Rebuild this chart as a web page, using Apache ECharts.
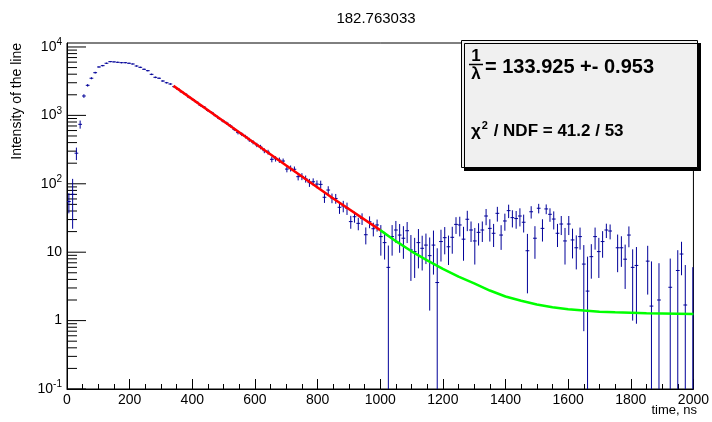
<!DOCTYPE html>
<html><head><meta charset="utf-8">
<script src="https://cdn.jsdelivr.net/npm/echarts@6/dist/echarts.min.js"></script>
<style>html,body{margin:0;padding:0;background:#fff;}#c{width:712px;height:422px;}</style>
</head><body><div id="c"></div>
<script>
// ---- data ----
const binCenters = [6,18,30,42,54,66,78,90,102,114,126,138,150,162,174,186,198,210,222,234,246,258,270,282,294,306,318,330,342,354,366,378,390,402,414,426,438,450,462,474,486,498,510,522,534,546,558,570,582,594,606,618,630,642,654,666,678,690,702,714,726,738,750,762,774,786,798,810,822,834,846,858,870,882,894,906,918,930,942,954,966,978,990,1002,1014,1026,1038,1050,1062,1074,1086,1098,1110,1122,1134,1146,1158,1170,1182,1194,1206,1218,1230,1242,1254,1266,1278,1290,1302,1314,1326,1338,1350,1362,1374,1386,1398,1410,1422,1434,1446,1458,1470,1482,1494,1506,1518,1530,1542,1554,1566,1578,1590,1602,1614,1626,1638,1650,1662,1674,1686,1698,1710,1722,1734,1746,1758,1770,1782,1794,1806,1818,1830,1842,1854,1866,1878,1890,1902,1914,1926,1938,1950,1962,1974,1986,1998];
const intensity = [55,70,280,740,1920,2750,3490,4210,5100,5330,
5780,6100,6050,5970,5890,5890,5780,5640,5270,5040,
4720,4500,3980,3600,3490,3180,3000,2875,2630,2430,
2200,2050,1840,1700,1560,1400,1320,1180,1100,990,
900,830,770,700,625,560,530,490,440,405,
370,345,305,290,228,232,222,215,164,168,
163,127,128,118,104,107,99,98,63.5,81,
62,61,45.3,47.3,44,28,33,26.4,31,18,
27.9,22,25,16.9,13.8,6.0,16.9,21.1,17.8,16.0,
20.6,10.8,10.2,13.8,11.4,12.7,8.9,12.7,3.6,14.3,
16.3,12.0,16.5,25.5,25.0,15.5,30.3,21.1,14.6,19.5,
21.1,33.8,22.3,18.9,37.0,17.8,28.6,40.5,32.0,31.0,
33.8,27.4,10.5,39.0,16.0,43.9,22.3,42.9,35.8,30.5,
18.9,25.8,14.6,25.8,15.1,11.6,16.9,6.7,2.7,8.6,
16.9,10.2,14.3,21.1,20.4,null,11.6,11.6,7.9,17.8,
6.0,6.4,null,null,7.4,1.63,null,2.0,null,null,
3.07,null,5.4,9.4,1.69,null,1.24];
const intensityErr = [18,48,58,100,120,120,120,130,130,130,
130,130,130,130,130,130,130,120,120,120,
110,110,100,100,90,90,80,80,80,75,
70,70,65,60,55,55,50,50,45,45,
40,40,38,36,35,33,32,30,30,28,
27,26,25,24,22,21,20,19,17,17,
16,15,15,14,14,13,13,13,11,11,
10,10,9,9,9,6,6,5.5,6,5,
5.5,5,5,8,6,6.5,8,7.5,8,8,
7,7,6,8,6,6,7.5,8,7.8,7,
7,5.5,7,7,8,8,10,7,8,7,
7,9,8,7,9,7,8,9,9,9,
10,8,8,8,8,7,8,7,8,9,
7,8,8,8,7,6,6,6,5.9,4.5,
6,6,6,5,5,null,6.5,5.5,5,6,
5,5.5,null,null,5,5.7,null,4.9,null,null,
5,null,5.3,4.8,4.8,null,4.8];
const binHalfWidth = 6;
const fitRedTime = [340,500,700,850,1000];
const fitRedValue = [2700,820,185,61,21];
const fitGreenTime = [1000,1050,1100,1150,1200,1250,1300,1350,1400,1450,1500,1550,1600,1650,1700,1750,1800,1850,1900,1950,2000];
const fitGreenValue = [21,14.5,10.3,7.6,5.7,4.4,3.5,2.75,2.25,1.95,1.72,1.57,1.47,1.40,1.35,1.32,1.30,1.28,1.27,1.26,1.25];
const yMajorTicks = [0.1,1,10,100,1000,10000];
const yMinorTicks = [0.2,0.3,0.4,0.5,0.6,0.7,0.8,0.9,2,3,4,5,6,7,8,9,20,30,40,50,60,70,80,90,200,300,400,500,600,700,800,900,2000,3000,4000,5000,6000,7000,8000,9000];
const yMin = 0.1, yMax = 11430;
const titleText = '182.763033';
const yTitle = 'Intensity of the line';
const xTitle = 'time, ns';

const FONT = 'Liberation Sans, Arial, Helvetica, sans-serif';
const chart = echarts.init(document.getElementById('c'), null, {renderer:'canvas'});

const points = [];
binCenters.forEach((t,i)=>{ if(intensity[i]!=null && intensity[i]>0) points.push([t,intensity[i],intensityErr[i]]); });

function renderPoint(params, api){
  const t = api.value(0), v = api.value(1), e = api.value(2);
  const lo = Math.max(v - e, yMin);
  const hi = Math.min(v + e, yMax);
  const c = api.coord([t, v]);
  const top = api.coord([t, hi]);
  const bot = api.coord([t, lo]);
  const l = api.coord([t - binHalfWidth, v]);
  const r = api.coord([t + binHalfWidth, v]);
  const style = {stroke:'#000099', lineWidth:1};
  return {type:'group', children:[
    {type:'line', shape:{x1:c[0],y1:top[1],x2:c[0],y2:bot[1]}, style:style},
    {type:'line', shape:{x1:l[0],y1:c[1],x2:r[0],y2:c[1]}, style:style}
  ]};
}
function tickRenderer(len){
  return function(params, api){
    const p = api.coord([0, api.value(1)]);
    return {type:'line', shape:{x1:p[0],y1:p[1],x2:p[0]+len,y2:p[1]}, style:{stroke:'#000',lineWidth:1}};
  };
}
function yLabel(v){
  const lg = Math.log10(v);
  const n = Math.round(lg);
  if (Math.abs(lg - n) > 1e-6) return '';
  if (n === 0) return '{b|1}';
  if (n === 1) return '{b|10}';
  return '{b|10}{s|' + n + '}';
}

chart.setOption({
  animation:false,
  backgroundColor:'#fff',
  grid:{left:67, right:15, top:43, bottom:33, show:true, borderColor:'#000', borderWidth:1, backgroundColor:'transparent'},
  xAxis:{type:'value', min:0, max:2000, interval:200,
    axisLine:{show:true, lineStyle:{color:'#000', width:1}},
    axisTick:{show:true, inside:true, length:10, lineStyle:{color:'#000'}},
    minorTick:{show:true, splitNumber:4, length:5, lineStyle:{color:'#000'}},
    splitLine:{show:false}, minorSplitLine:{show:false},
    axisLabel:{color:'#000', fontFamily:FONT, fontSize:14, margin:4, showMinLabel:true, showMaxLabel:true,
      formatter:function(v){ return String(v); }}
  },
  yAxis:{type:'log', logBase:10, min:yMin, max:yMax,
    axisLine:{show:true, lineStyle:{color:'#000', width:1}},
    axisTick:{show:false}, splitLine:{show:false},
    axisLabel:{color:'#000', fontFamily:FONT, margin:5, formatter:yLabel,
      rich:{b:{fontSize:14, fontFamily:FONT, color:'#000'}, s:{fontSize:10, fontFamily:FONT, color:'#000', padding:[0,0,9,0]}}}
  },
  series:[
    {type:'custom', name:'yMajor', renderItem:tickRenderer(19), data:yMajorTicks.map(v=>[0,v]), silent:true, clip:false, z:3},
    {type:'custom', name:'yMinor', renderItem:tickRenderer(10), data:yMinorTicks.map(v=>[0,v]), silent:true, clip:false, z:3},
    {type:'custom', name:'histogram', renderItem:renderPoint, data:points, clip:true, z:4},
    {type:'line', name:'fitRange', data:fitRedTime.map((t,i)=>[t,fitRedValue[i]]), showSymbol:false, symbol:'none',
      lineStyle:{color:'#ff0000', width:2.5}, z:5},
    {type:'line', name:'fitExtrap', data:fitGreenTime.map((t,i)=>[t,fitGreenValue[i]]), showSymbol:false, symbol:'none',
      lineStyle:{color:'#00ff00', width:2.5}, z:5}
  ],
  graphic:{elements:[
    {type:'text', x:376, y:19, style:{text:titleText, font:'15px '+FONT, fill:'#000', align:'center', verticalAlign:'middle'}},
    {type:'text', x:17, y:43, rotation:Math.PI/2, style:{text:yTitle, font:'14px '+FONT, fill:'#000', align:'right', verticalAlign:'middle'}},
    {type:'text', x:697, y:410, style:{text:xTitle, font:'13px '+FONT, fill:'#000', align:'right', verticalAlign:'middle'}},
    {type:'polygon', z:100, shape:{points:[[697,43],[701,43],[701,171],[464,171],[464,167],[697,167]]}, style:{fill:'#111111'}},
    {type:'rect', z:101, shape:{x:461.5, y:40.5, width:236, height:127}, style:{fill:'#f0f0f0', stroke:'#000', lineWidth:1,
      shadowColor:'#000', shadowOffsetX:3, shadowOffsetY:3, shadowBlur:0}},
    {type:'text', z:102, x:476, y:56, style:{text:'1', font:'bold 17px '+FONT, fill:'#000', align:'center', verticalAlign:'middle'}},
    {type:'line', z:102, shape:{x1:469, y1:64.5, x2:483, y2:64.5}, style:{stroke:'#000', lineWidth:1.5}},
    {type:'text', z:102, x:476, y:74, style:{text:'\u03bb', font:'bold 17px '+FONT, fill:'#000', align:'center', verticalAlign:'middle'}},
    {type:'text', z:102, x:485, y:67, style:{text:'= 133.925 +- 0.953', font:'bold 20px '+FONT, fill:'#000', align:'left', verticalAlign:'middle'}},
    {type:'text', z:102, x:471, y:131, style:{text:'{a|\u03c7}{s|2}{a| / NDF = 41.2 / 53}', align:'left', verticalAlign:'middle',
      rich:{a:{font:'bold 17px '+FONT, fill:'#000'}, s:{font:'bold 11px '+FONT, fill:'#000', padding:[0,1,10,1]}}}}
  ]}
});
</script></body></html>
